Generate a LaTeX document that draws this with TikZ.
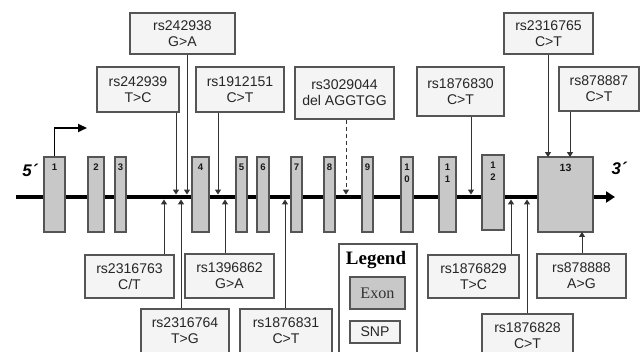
\documentclass[tikz,border=0pt]{standalone}
\usepackage{fontspec}
\setmainfont{Liberation Serif}
\setsansfont{Liberation Sans}
\usetikzlibrary{arrows.meta}
\newcommand\pxu{0.025cm}
\definecolor{exongray}{RGB}{200,200,200}
\definecolor{boxgray}{RGB}{244,244,244}
\definecolor{edgegray}{RGB}{85,85,85}

\begin{document}
\begin{tikzpicture}[x=\pxu,y=-\pxu,
  snp/.style={draw=edgegray,line width=0.9pt,fill=boxgray,align=center,inner sep=0pt,
    font=\sffamily\fontsize{10}{11.4}\selectfont,text=black!85},
  exon/.style={draw=edgegray,line width=0.9pt,fill=exongray,minimum height=75*\pxu,inner sep=0pt},
  exnum/.style={anchor=north,inner sep=0pt,yshift=-0.19cm,align=center,
    font=\sffamily\bfseries\fontsize{6.8}{8.3}\selectfont,text=black!90},
  pin/.style={draw=black!80,line width=0.7pt,-{Triangle[width=4.3pt,length=3.5pt]}},
  dna/.style={line width=2.8pt,-{Triangle[width=7.8pt,length=6.4pt]}},
  prime/.style={font=\sffamily\bfseries\itshape\fontsize{12}{12}\selectfont}]
  \clip (0,0) rectangle (640,352);
  % gene axis
  \coordinate (lstart) at (16,197); \coordinate (lend) at (615,197);
  \draw[dna] (lstart) -- (lend);
  \node[prime] (five) at (30,170) {5´};
  \node[prime] (three) at (619,168) {3´};
  % exons
  \node[exon,minimum width=21*\pxu,label={[exnum]north:1}] (e1) at (54.5,194.5) {};
  \node[exon,minimum width=16*\pxu,label={[exnum]north:2}] (e2) at (96,194.5) {};
  \node[exon,minimum width=11*\pxu,label={[exnum]north:3}] (e3) at (120.5,194.5) {};
  \node[exon,minimum width=17*\pxu,label={[exnum]north:4}] (e4) at (200.5,194.5) {};
  \node[exon,minimum width=11*\pxu,label={[exnum]north:5}] (e5) at (241.5,194.5) {};
  \node[exon,minimum width=12*\pxu,label={[exnum]north:6}] (e6) at (263,194.5) {};
  \node[exon,minimum width=11*\pxu,label={[exnum]north:7}] (e7) at (296.5,194.5) {};
  \node[exon,minimum width=11*\pxu,label={[exnum]north:8}] (e8) at (329.5,194.5) {};
  \node[exon,minimum width=11*\pxu,label={[exnum]north:9}] (e9) at (367.5,194.5) {};
  \node[exon,minimum width=12*\pxu,label={[exnum]north:{1\\0}}] (e10) at (407,194.5) {};
  \node[exon,minimum width=17*\pxu,label={[exnum]north:{1\\1}}] (e11) at (447.5,194.5) {};
  \node[exon,minimum width=22*\pxu,label={[exnum]north:{1\\2}}] (e12) at (493,192.5) {};
  \node[exon,minimum width=55*\pxu,label={[exnum,font=\sffamily\bfseries\fontsize{7.5}{8}\selectfont]north:13}] (e13) at (565.5,194.5) {};
  % start of transcription
  \coordinate (tss) at (87,128);
  \draw[line width=1.4pt,-{Triangle[width=5.7pt,length=6.4pt]}] (e1.north) |- (tss);
  % SNPs above the gene
  \node[snp,minimum width=105*\pxu,minimum height=41*\pxu] (s242938) at (182.5,33.5) {rs242938\\G>A};
  \node[snp,minimum width=82*\pxu,minimum height=45*\pxu] (s242939) at (138,89.5) {rs242939\\T>C};
  \node[snp,minimum width=88*\pxu,minimum height=45*\pxu] (s1912151) at (240,89.5) {rs1912151\\C>T};
  \node[snp,minimum width=99*\pxu,minimum height=52*\pxu] (s3029044) at (344.5,93) {rs3029044\\del AGGTGG};
  \node[snp,minimum width=87*\pxu,minimum height=49*\pxu] (s1876830) at (460.5,91.5) {rs1876830\\C>T};
  \node[snp,minimum width=89*\pxu,minimum height=41*\pxu] (s2316765) at (548.5,33.5) {rs2316765\\C>T};
  \node[snp,minimum width=80*\pxu,minimum height=44*\pxu] (s878887) at (599,89) {rs878887\\C>T};
  % SNPs below the gene
  \node[snp,minimum width=89*\pxu,minimum height=43*\pxu] (s2316763) at (129.5,276.5) {rs2316763\\C/T};
  \node[snp,minimum width=89*\pxu,minimum height=44*\pxu] (s1396862) at (229.5,276) {rs1396862\\G>A};
  \node[snp,minimum width=91*\pxu,minimum height=43*\pxu] (s1876829) at (473.5,276.5) {rs1876829\\T>C};
  \node[snp,minimum width=89*\pxu,minimum height=44*\pxu] (s878888) at (581.5,276) {rs878888\\A>G};
  \node[snp,minimum width=88*\pxu,minimum height=44*\pxu] (s2316764) at (185,331) {rs2316764\\T>G};
  \node[snp,minimum width=92*\pxu,minimum height=44*\pxu] (s1876831) at (286,331) {rs1876831\\C>T};
  \node[snp,minimum width=91*\pxu,minimum height=44*\pxu] (s1876828) at (527.5,336) {rs1876828\\C>T};
  % pin points on the gene
  \coordinate (p242939) at (176,194.5); \coordinate (p242938) at (187,194.5);
  \coordinate (p1912151) at (218,194.5); \coordinate (p3029044) at (346,194.5);
  \coordinate (p1876830) at (471,194.5);
  \coordinate (p2316765) at (548,157); \coordinate (p878887) at (570,157);
  \coordinate (p2316763) at (164,199.5); \coordinate (p2316764) at (181,199.5);
  \coordinate (p1396862) at (225,199.5); \coordinate (p1876831) at (285,199.5);
  \coordinate (p1876829) at (511,199.5); \coordinate (p1876828) at (527,199.5);
  \coordinate (p878888) at (582,232);
  \draw[pin] (s242939.south -| p242939) -- (p242939);
  \draw[pin] (s242938.south -| p242938) -- (p242938);
  \draw[pin] (s1912151.south -| p1912151) -- (p1912151);
  \draw[pin,densely dashed] (s3029044.south -| p3029044) -- (p3029044);
  \draw[pin] (s1876830.south -| p1876830) -- (p1876830);
  \draw[pin] (s2316765.south -| p2316765) -- (p2316765);
  \draw[pin] (s878887.south -| p878887) -- (p878887);
  \draw[pin] (s2316763.north -| p2316763) -- (p2316763);
  \draw[pin] (s2316764.north -| p2316764) -- (p2316764);
  \draw[pin] (s1396862.north -| p1396862) -- (p1396862);
  \draw[pin] (s1876831.north -| p1876831) -- (p1876831);
  \draw[pin] (s1876829.north -| p1876829) -- (p1876829);
  \draw[pin] (s1876828.north -| p1876828) -- (p1876828);
  \draw[pin] (s878888.north -| p878888) -- (p878888);
  % legend
  \node[draw=edgegray,line width=0.9pt,fill=white,minimum width=78*\pxu,minimum height=116*\pxu] (leg) at (378,302) {};
  \node[font=\bfseries\fontsize{13.5}{14}\selectfont] (legtitle) at (376,260) {Legend};
  \node[exon,minimum width=55*\pxu,minimum height=32*\pxu,font=\fontsize{11.5}{12}\selectfont,text=black!80] (legexon) at (377.5,293) {Exon};
  \node[snp,minimum width=50*\pxu,minimum height=22*\pxu] (legsnp) at (375,332) {SNP};
\end{tikzpicture}
\end{document}
